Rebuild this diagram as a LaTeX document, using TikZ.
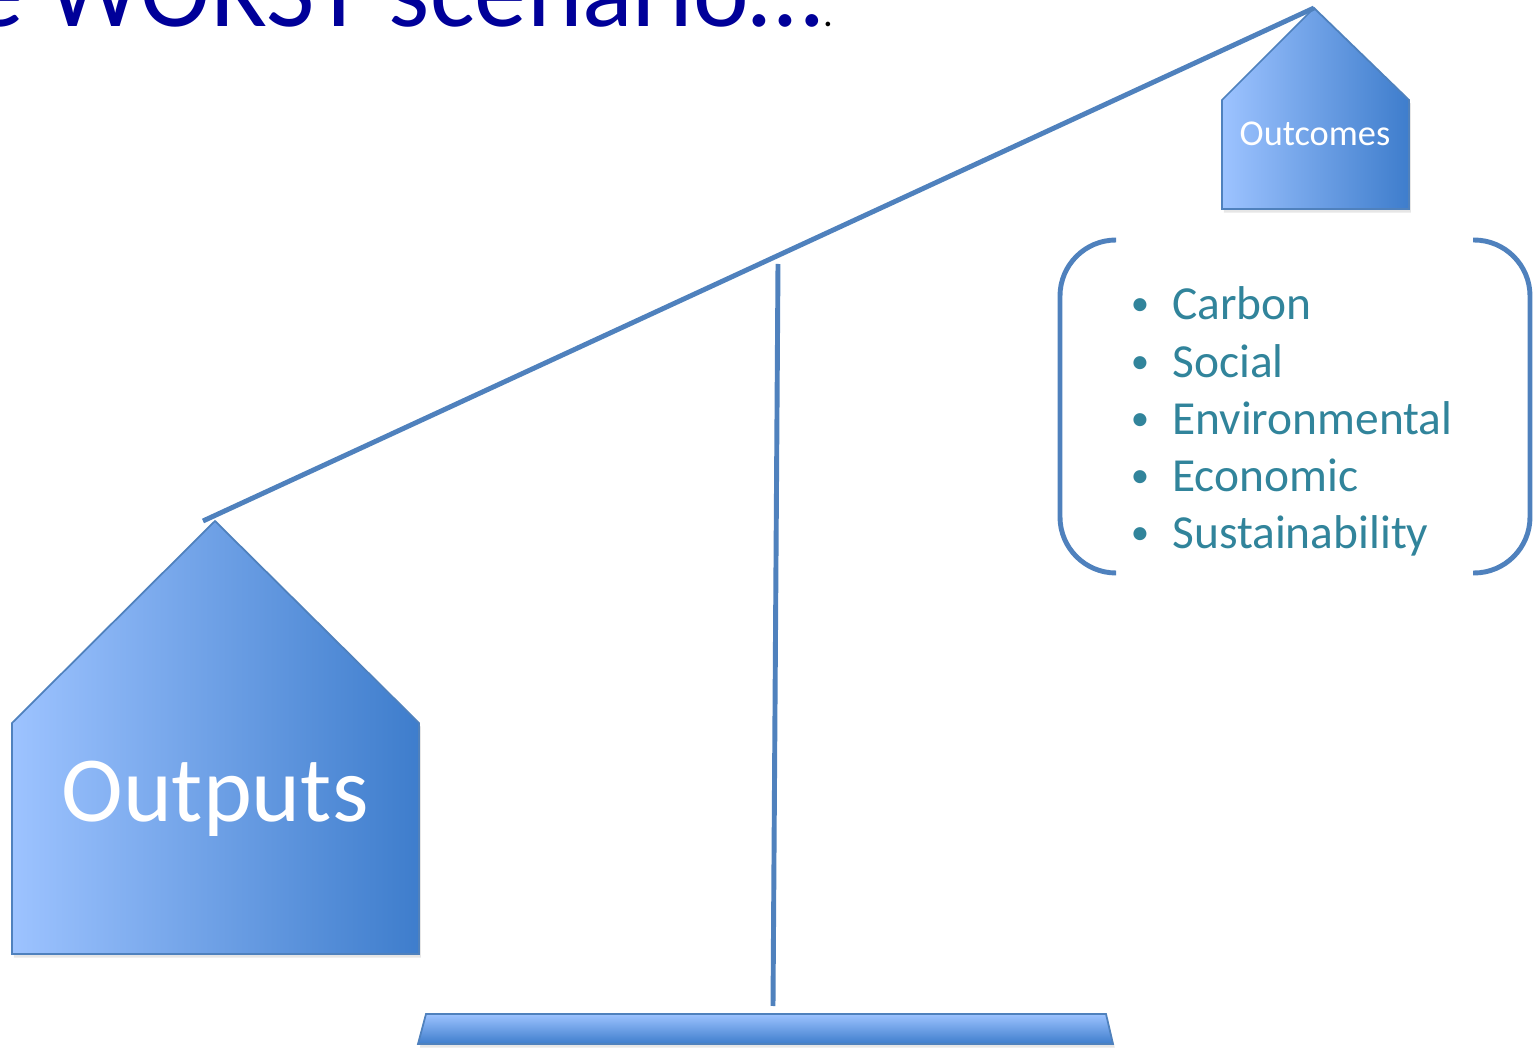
\documentclass[tikz,border=0pt]{standalone}
\usepackage{fontspec}
\setmainfont{Carlito}
\usetikzlibrary{shadows}

\definecolor{titleblue}{RGB}{0,0,153}
\definecolor{beamblue}{RGB}{79,129,189}
\definecolor{houselight}{RGB}{157,195,255}
\definecolor{housedark}{RGB}{62,125,204}
\definecolor{listteal}{RGB}{49,132,155}

\begin{document}
\begin{tikzpicture}[
    x=0.02cm, y=-0.02cm,
    beam/.style={draw=beamblue, line width=2.8pt},
    bracket/.style={draw=beamblue, line width=2.8pt, rounded corners=1.12cm},
    house/.style={draw=beamblue, line width=1pt, left color=houselight, right color=housedark,
        drop shadow={opacity=0.2, shadow xshift=1pt, shadow yshift=-2pt}},
    stand/.style={draw=beamblue, line width=1pt, top color=houselight, bottom color=housedark,
        drop shadow={opacity=0.2, shadow xshift=1pt, shadow yshift=-2pt}},
    label/.style={text=white, inner sep=0pt},
    item/.style={text=listteal, inner sep=0pt, font=\fontsize{27}{32}\selectfont}
]
\useasboundingbox (0,0) rectangle (1536,1050);

% heading, mostly above the page
\node[text=titleblue, inner sep=0pt, anchor=base west, font=\fontsize{60}{66}\selectfont]
    (heading) at (-29,27) {e WORST scenario…};
\node[inner sep=0pt, anchor=base west, font=\fontsize{22}{26}\selectfont]
    (stop) at (heading.base east) {.};

% the two weights
\path[house] (12,723) -- (215,521) -- (419,723) -- (419,954) -- (12,954) -- cycle;
\path[house] (1222,100) -- (1314,8) -- (1409,100) -- (1409,209) -- (1222,209) -- cycle;
\coordinate (leftTip) at (203,521);
\coordinate (rightTip) at (1314,8);
\node[label, anchor=base, font=\fontsize{53}{60}\selectfont] (outputs) at (215,822) {Outputs};
\node[label, anchor=base, font=\fontsize{20.7}{24}\selectfont] (outcomes) at (1315,146) {Outcomes};

% beam, pole and foot
\draw[beam] (leftTip) -- (rightTip);
\coordinate (poleTop) at (778,264);
\coordinate (poleFoot) at (773,1006);
\draw[beam] (poleTop) -- (poleFoot);
\path[stand] (426,1014) -- (1106,1014) -- (1113,1044) -- (418,1044) -- cycle;

% bracketed list of outcomes
\draw[bracket] (1116,240) -- (1060,240) -- (1060,573) -- (1116,573);
\draw[bracket] (1473,240) -- (1530,240) -- (1530,573) -- (1473,573);
\foreach \txt [count=\i from 0] in {Carbon, Social, Environmental, Economic, Sustainability} {
    \node[item, anchor=base, font=\fontsize{21}{24}\selectfont] (dot\i) at (1140,316+57.1*\i) {•};
    \node[item, anchor=base west] (item\i) at (1172,320+57.1*\i) {\txt};
}
\end{tikzpicture}
\end{document}
